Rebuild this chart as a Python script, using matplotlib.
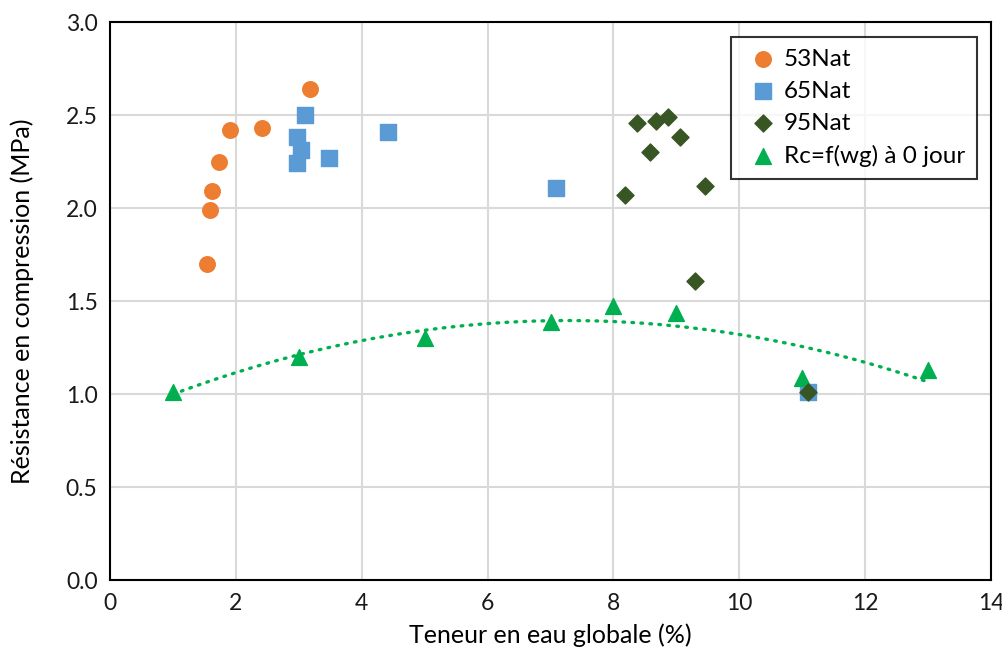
import matplotlib.pyplot as plt
import numpy as np

plt.rcParams['font.family'] = ['Lato', 'DejaVu Sans']

# 53Nat series
x_53 = [3.17, 1.91, 2.41, 1.73, 1.62, 1.59, 1.54]
y_53 = [2.64, 2.42, 2.43, 2.25, 2.09, 1.99, 1.70]

# 65Nat series
x_65 = [3.10, 2.97, 3.04, 2.97, 3.48, 4.41, 7.08, 11.09]
y_65 = [2.50, 2.38, 2.31, 2.24, 2.27, 2.41, 2.11, 1.01]

# 95Nat series
x_95 = [8.37, 8.67, 8.86, 9.05, 8.58, 8.19, 9.45, 9.30, 11.09]
y_95 = [2.46, 2.47, 2.49, 2.38, 2.30, 2.07, 2.12, 1.61, 1.01]

# Rc=f(wg) at day 0
x_rc = [1, 3, 5, 7, 8, 9, 11, 13]
y_rc = [1.01, 1.20, 1.30, 1.39, 1.475, 1.435, 1.085, 1.13]

fig = plt.figure(figsize=(10.03, 6.51), dpi=100)
ax = fig.add_axes([0.1097, 0.109, 0.8784, 0.857])

# polynomial trendline (order 2) like the spreadsheet one
coef = np.polyfit(x_rc, y_rc, 2)
xt = np.linspace(min(x_rc), max(x_rc), 200)
ax.plot(xt, np.polyval(coef, xt), color='#00B050', lw=2.4, linestyle=(0, (0.5, 2.2)),
        dash_capstyle='round', zorder=2)

ax.scatter(x_53, y_53, s=125, marker='o', color='#ED7D31', label='53Nat', zorder=3)
ax.scatter(x_65, y_65, s=120, marker='s', color='#5B9BD5', label='65Nat', zorder=3)
ax.scatter(x_95, y_95, s=75, marker='D', color='#375623', label='95Nat', zorder=4)
ax.scatter(x_rc, y_rc, s=130, marker='^', color='#00B050', label='Rc=f(wg) à 0 jour', zorder=3)

ax.set_xlim(0, 14)
ax.set_ylim(0, 3.0)
ax.set_xticks(np.arange(0, 15, 2))
ax.set_yticks(np.arange(0, 3.01, 0.5))
ax.set_yticklabels(['%.1f' % v for v in np.arange(0, 3.01, 0.5)])
ax.grid(True, color='#D9D9D9', lw=1.5)
ax.set_axisbelow(True)
ax.tick_params(length=0, labelsize=16.5, pad=9, colors='#1a1a1a')
for sp in ax.spines.values():
    sp.set_color('black')
    sp.set_linewidth(1.5)

ax.set_xlabel('Teneur en eau globale (%)', fontsize=18)
ax.set_ylabel('Résistance en compression (MPa)', fontsize=18)
ax.xaxis.set_label_coords(0.5, -0.099, transform=ax.transAxes)
ax.yaxis.set_label_coords(-0.1, 0.5, transform=ax.transAxes)
ax.xaxis.label.set_va('center')
ax.yaxis.label.set_va('center')

leg = ax.legend(loc='upper right', bbox_to_anchor=(0.984, 0.974), borderaxespad=0,
                fontsize=17.5, frameon=True, fancybox=False, handletextpad=0.05,
                handlelength=1.6, labelspacing=0.45, borderpad=0.5, scatterpoints=1)
leg.get_frame().set_edgecolor('black')
leg.get_frame().set_linewidth(1.5)

fig.savefig('out.png', dpi=100)
